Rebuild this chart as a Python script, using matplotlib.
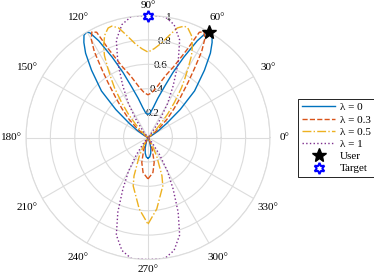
import numpy as np
import matplotlib
matplotlib.use('Agg')
import matplotlib.pyplot as plt

# right half of each pattern (deg from -90 to 90), left half is the mirror image
blue_deg = [-90, -85, -80, -75, -70, -65, -60, 20, 25, 29, 33, 37, 41, 45, 50, 53.5, 56, 58, 60, 61, 63, 66, 69, 72, 76, 80, 85, 90]
blue_r = [0.17, 0.16, 0.13, 0.09, 0.04, 0.01, 0.0, 0.0, 0.02, 0.04, 0.10, 0.19, 0.35, 0.54, 0.72, 0.86, 0.94, 0.99, 1.0, 0.98, 0.89, 0.72, 0.57, 0.44, 0.33, 0.25, 0.20, 0.19]

orange_deg = [-90, -82, -76, -70, -65, -60, 25, 30, 35, 40, 44, 48, 51, 54, 56, 58, 60, 62, 64, 66, 70, 74, 77.5, 80, 85, 90]
orange_r = [0.34, 0.29, 0.21, 0.10, 0.03, 0.0, 0.0, 0.01, 0.05, 0.12, 0.22, 0.32, 0.42, 0.56, 0.68, 0.83, 0.93, 0.98, 0.96, 0.79, 0.62, 0.53, 0.46, 0.42, 0.37, 0.35]

yellow_deg = [-90, -83, -73, -70, -65, -60, -55, -50, 35, 40, 44, 47, 50, 53, 56, 58, 60, 62, 64, 67, 70, 72, 75, 78, 82, 86, 90]
yellow_r = [0.71, 0.59, 0.415, 0.335, 0.17, 0.05, 0.01, 0.0, 0.0, 0.02, 0.08, 0.15, 0.25, 0.36, 0.49, 0.57, 0.66, 0.76, 0.83, 0.91, 0.955, 0.96, 0.93, 0.86, 0.78, 0.73, 0.70]

purple_deg = [-90, -85, -82, -77, -72, -68, -64, -60, -56, -52, -48, -45, 45, 48, 52, 56, 60, 64, 68, 72, 77, 82, 85, 90]
purple_r = [1.0, 1.0, 1.0, 0.95, 0.84, 0.66, 0.47, 0.32, 0.17, 0.06, 0.01, 0.0, 0.0, 0.01, 0.06, 0.17, 0.32, 0.47, 0.66, 0.84, 0.95, 1.0, 1.0, 1.0]

labels = ['λ = 0', 'λ = 0.3', 'λ = 0.5', 'λ = 1']
user_deg, user_r = 60, 1.0
target_deg, target_r = 90, 1.0

r_ticks = [0.2, 0.4, 0.6, 0.8, 1.0]
r_ticklabels = ['0.2', '0.4', '0.6', '0.8', '1']
theta_ticks = list(range(0, 360, 30))

colors = ['#0072BD', '#D95319', '#EDB120', '#7E2F8E']
styles = ['-', '--', '-.', ':']

plt.rcParams['font.family'] = ['Liberation Serif', 'DejaVu Serif']
plt.rcParams['font.size'] = 8

fig = plt.figure(figsize=(3.74, 2.76), dpi=100)
ax = fig.add_axes([0.0695, 0.0598, 0.6524, 0.884], projection='polar')


def full_loop(deg, r):
    deg = np.array(deg, dtype=float)
    r = np.array(r, dtype=float)
    th = np.r_[deg, 180 - deg[::-1]]
    rr = np.r_[r, r[::-1]]
    return np.deg2rad(th), rr


series = [(blue_deg, blue_r), (orange_deg, orange_r), (yellow_deg, yellow_r), (purple_deg, purple_r)]
for (d, r), lab, c, ls in zip(series, labels, colors, styles):
    th, rr = full_loop(d, r)
    ax.plot(th, rr, color=c, ls=ls, lw=1.0, label=lab)

ax.plot(np.deg2rad(user_deg), user_r, ls='none', marker='*', ms=10.5, color='black', label='User',
        clip_on=False, zorder=5)
ax.plot(np.deg2rad(target_deg), target_r, ls='none', marker=(6, 1, 0), ms=8, mfc='white',
        mec='blue', mew=1.5, label='Target', clip_on=False, zorder=5)

ax.set_ylim(0, 1)
ax.set_yticks(r_ticks)
ax.set_yticklabels([])
ax.set_xticks(np.deg2rad(theta_ticks))
ax.set_xticklabels([])
ax.grid(color='#dcdcdc', lw=0.8)
ax.spines['polar'].set_color('#dcdcdc')
ax.spines['polar'].set_linewidth(0.8)

# radius labels sit on their ring at 80 deg
for rv, txt in zip(r_ticks, r_ticklabels):
    ax.text(np.deg2rad(80), rv, txt, ha='center', va='center', zorder=1)

# angle labels outside the circle
for a in theta_ticks:
    if a in (90, 270):
        rr = 1.08
    elif a in (0, 180):
        rr = 1.12
    else:
        rr = 1.14
    ax.text(np.deg2rad(a), rr, f'{a}°', ha='center', va='center', clip_on=False)

leg = fig.legend(loc='center left', bbox_to_anchor=(0.797, 0.5), handlelength=3.0,
                 labelspacing=0.22, borderpad=0.35, handletextpad=0.4, borderaxespad=0,
                 fancybox=False, framealpha=1, edgecolor='black', fontsize=8)
leg.get_frame().set_linewidth(0.6)

fig.savefig('out.png', dpi=100)
